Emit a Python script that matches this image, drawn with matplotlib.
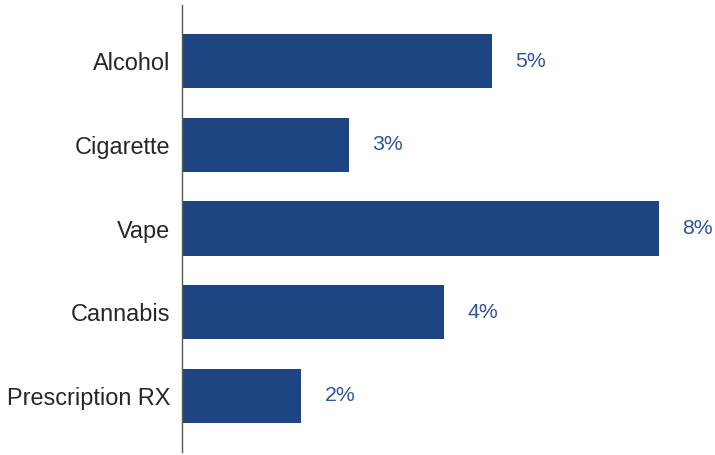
import matplotlib.pyplot as plt

# Share of respondents reporting use, by substance
categories = ["Alcohol", "Cigarette", "Vape", "Cannabis", "Prescription RX"]
values = [5.2, 2.8, 8.0, 4.4, 2.0]

bar_color = "#1E4482"
label_color = "#2F5597"
text_color = "#262626"

plt.rcParams["font.family"] = ["Liberation Sans", "DejaVu Sans"]

fig = plt.figure(figsize=(7.15, 4.55), dpi=100)
ax = fig.add_axes([182 / 715, 3 / 455, (715 - 182) / 715, 447 / 455])

ypos = list(range(len(categories)))
ax.barh(ypos, values, height=0.645, color=bar_color)

for y, v in zip(ypos, values):
    ax.annotate(f"{v:.0f}%", xy=(v, y), xytext=(17, 0), textcoords="offset points",
                va="center", ha="left", fontsize=15.3, color=label_color)

ax.set_yticks(ypos)
ax.set_yticklabels(categories, fontsize=16.9, color=text_color)
ax.tick_params(axis="y", length=0, pad=8.5)
ax.set_xticks([])
ax.set_xlim(0, 533 / 59.6)
ax.set_ylim(4.669, -0.669)

for side in ("top", "right", "bottom"):
    ax.spines[side].set_visible(False)
ax.spines["left"].set_color("#595959")
ax.spines["left"].set_linewidth(1.0)

fig.savefig("out.png", dpi=100)
